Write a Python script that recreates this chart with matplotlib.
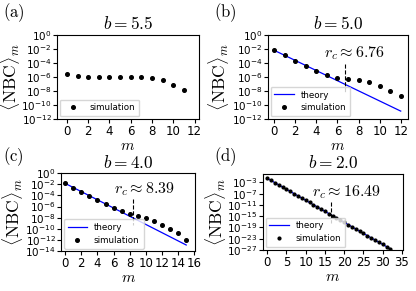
import numpy as np
import matplotlib
matplotlib.use('Agg')
import matplotlib.pyplot as plt
from matplotlib.ticker import FixedLocator, NullLocator, LogFormatterSciNotation

plt.rcParams['mathtext.fontset'] = 'cm'
plt.rcParams['font.size'] = 8

# panel (a): b = 5.5, simulation only (log10 values)
m_a = list(range(12))
log_sim_a = [-5.58, -5.9, -6.05, -6.05, -6.05, -6.05, -6.05, -6.07, -6.15, -6.5, -7.1, -7.93]

# panel (b): b = 5.0
m_b = list(range(13))
log_sim_b = [-2.2, -2.93, -3.65, -4.37, -5.1, -5.67, -6.15, -6.35, -6.5, -6.73, -7.26, -7.98, -8.7]
log_th_b = [-2.2, -10.87]   # theory at m=0 and m=12
rc_b = 6.76

# panel (c): b = 4.0
m_c = list(range(16))
log_sim_c = [-1.84, -2.59, -3.33, -4.08, -4.83, -5.52, -6.2, -6.84, -7.36, -7.64,
             -8.05, -8.56, -9.25, -10.0, -10.75, -12.0]
log_th_c = [-1.84, -12.9]   # theory at m=0 and m=15
rc_c = 8.39

# panel (d): b = 2.0
m_d = list(range(33))
log_sim_d = [-1.5, -2.28, -3.07, -3.85, -4.64, -5.42, -6.2, -6.99, -7.77, -8.56,
             -9.34, -10.12, -10.91, -11.69, -12.48, -13.26, -14.04, -14.83, -15.61,
             -16.4, -17.18, -17.96, -18.75, -19.53, -20.32, -21.1, -21.88, -22.67,
             -23.45, -24.24, -25.02, -25.8, -26.6]
log_th_d = [-1.5, -26.6]    # theory at m=0 and m=32
rc_d = 16.49


def theory(m, ends):
    m = np.asarray(m, dtype=float)
    slope = (ends[1] - ends[0]) / (m[-1] - m[0])
    return 10 ** (ends[0] + slope * (m - m[0]))


fig = plt.figure(figsize=(4.16, 2.91), dpi=100)

ax_a = fig.add_axes([0.137, 0.591, 0.341, 0.289])
ax_b = fig.add_axes([0.644, 0.591, 0.337, 0.289])
ax_c = fig.add_axes([0.147, 0.137, 0.322, 0.268])
ax_d = fig.add_axes([0.632, 0.141, 0.337, 0.261])

panels = [
    (ax_a, m_a, log_sim_a, None, None, '5.5', (1e-12, 1), np.arange(0, -13, -2), range(0, 13, 2), (-0.93, 12.4), 2.6, -0.25),
    (ax_b, m_b, log_sim_b, log_th_b, rc_b, '5.0', (1e-12, 1), np.arange(0, -13, -2), range(0, 13, 2), (-0.6, 12.7), 2.6, -0.26),
    (ax_c, m_c, log_sim_c, log_th_c, rc_c, '4.0', (1e-14, 1), np.arange(0, -15, -2), range(0, 17, 2), (-0.5, 16.1), 2.6, -0.27),
    (ax_d, m_d, log_sim_d, log_th_d, rc_d, '2.0', (1e-27, 1), np.arange(-3, -28, -4), range(0, 36, 5), (-1.1, 35.3), 2.0, -0.25),
]

rc_text_pos = {id(ax_b): (4.7, 10 ** -2.64), id(ax_c): (6.0, 10 ** -2.87), id(ax_d): (11.6, 10 ** -6.3)}
rc_dash = {id(ax_b): (-4.13, -8.17), id(ax_c): (-4.6, -9.3), id(ax_d): (-9.8, -17.3)}

for ax, m, log_sim, log_th, rc, b, ylim, yexp, xt, xlim, ms, ylx in panels:
    if log_th is not None:
        ax.plot(m, theory(m, log_th), color='blue', lw=0.9, label='theory')
    ax.plot(m, 10 ** np.array(log_sim), 'o', color='black', ms=ms, ls='none', label='simulation')
    if rc is not None:
        lo, hi = rc_dash[id(ax)]
        ax.plot([rc, rc], [10 ** lo, 10 ** hi], color='black', ls='--', lw=0.8)
        tx, ty = rc_text_pos[id(ax)]
        ax.text(tx, ty, r'$r_c \approx %.2f$' % rc, fontsize=11.5, va='center', ha='left')
    ax.set_yscale('log')
    ax.set_ylim(*ylim)
    ax.set_xlim(*xlim)
    ax.yaxis.set_major_locator(FixedLocator(10.0 ** yexp))
    ax.yaxis.set_minor_locator(NullLocator())
    ax.yaxis.set_major_formatter(LogFormatterSciNotation())
    ax.set_xticks(list(xt))
    ax.tick_params(axis='x', labelsize=8.5, length=3, pad=1)
    ax.tick_params(axis='y', labelsize=7.5, length=3, pad=1)
    ax.set_title(r'$b=%s$' % b, fontsize=12.5, pad=4)
    ax.set_xlabel(r'$m$', fontsize=11, labelpad=0)
    ax.set_ylabel(r'$\langle \mathrm{NBC} \rangle_m$', fontsize=12.5)
    ax.yaxis.set_label_coords(ylx, 0.5)
    ax.legend(loc='lower left', fontsize=6.3, handlelength=2.2, borderpad=0.45,
              labelspacing=0.45, borderaxespad=0.3)

for lab, x, y in [('(a)', 0.008, 0.955), ('(b)', 0.515, 0.955), ('(c)', 0.008, 0.46), ('(d)', 0.515, 0.46)]:
    fig.text(x, y, r'$\mathrm{%s}$' % lab, fontsize=12, va='center', ha='left')

fig.savefig('out.png', dpi=100)
